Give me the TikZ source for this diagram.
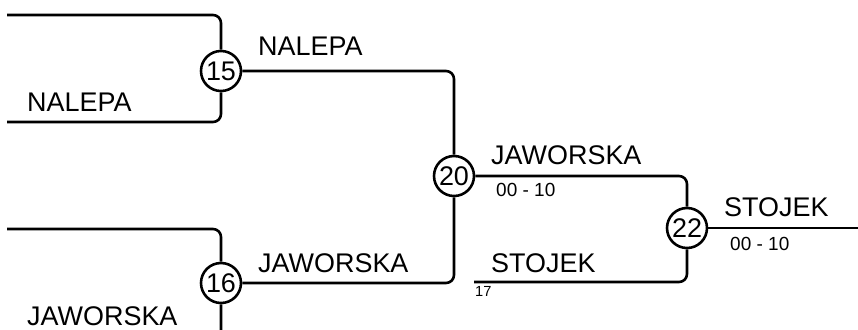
\documentclass[tikz,border=0pt]{standalone}
\usepackage{fontspec}
\setmainfont{Liberation Sans}
\begin{document}
\begin{tikzpicture}[x=0.03cm, y=-0.03cm]
		\tikzstyle{all} = [line width=2.2pt, line join=round]
		\tikzstyle{wire} = [all, draw, rounded corners=6.8pt]
		\tikzstyle{match} = [circle, all, draw, fill=white, minimum size=40*0.03cm, inner sep=0pt, font=\fontsize{23}{23}\selectfont]
		\tikzstyle{team} = [anchor=base west, inner sep=0pt, font=\fontsize{23}{23}\selectfont]
		\tikzstyle{score} = [anchor=base west, inner sep=0pt, font=\fontsize{16.2}{16.2}\selectfont]
		\tikzstyle{tiny} = [anchor=base west, inner sep=0pt, font=\fontsize{12.5}{12.5}\selectfont]
		\useasboundingbox (0,0) rectangle (858,329);
		\clip (0,0) rectangle (858,329);
		\node[match] (n15) at (221,71) {15};
		\node[match] (n16) at (221,283) {16};
		\node[match] (n20) at (454,176) {20};
		\node[match] (n22) at (687,228) {22};
		\coordinate (a1) at (7,15);
		\coordinate (a2) at (7,122);
		\coordinate (b1) at (7,229);
		\coordinate (b2) at (7,345);
		\coordinate (c2) at (474,282);
		\coordinate (out) at (858,228);
		\draw[wire] (a1) -| (n15.north);
		\draw[wire] (a2) -| (n15.south);
		\draw[wire] (b1) -| (n16.north);
		\draw[wire] (b2) -| (n16.south);
		\draw[wire] (n15.east) -| (n20.north);
		\draw[wire] (n16.east) -| (n20.south);
		\draw[wire] (n20.east) -| (n22.north);
		\draw[wire] (c2) -| (n22.south);
		\draw[wire] (n22.east) -- (out);
		\node[team] (l15a) at (258,55) {NALEPA};
		\node[team] (l15b) at (27,111) {NALEPA};
		\node[team] (l16a) at (258,272) {JAWORSKA};
		\node[team] (l16b) at (27,325) {JAWORSKA};
		\node[team] (l20) at (491,164) {JAWORSKA};
		\node[score] (s20) at (496,196) {00 - 10};
		\node[team] (l21) at (491,272) {STOJEK};
		\node[tiny] (s21) at (475,296) {17};
		\node[team] (l22) at (724,216) {STOJEK};
		\node[score] (s22) at (730,250) {00 - 10};
\end{tikzpicture}
\end{document}
